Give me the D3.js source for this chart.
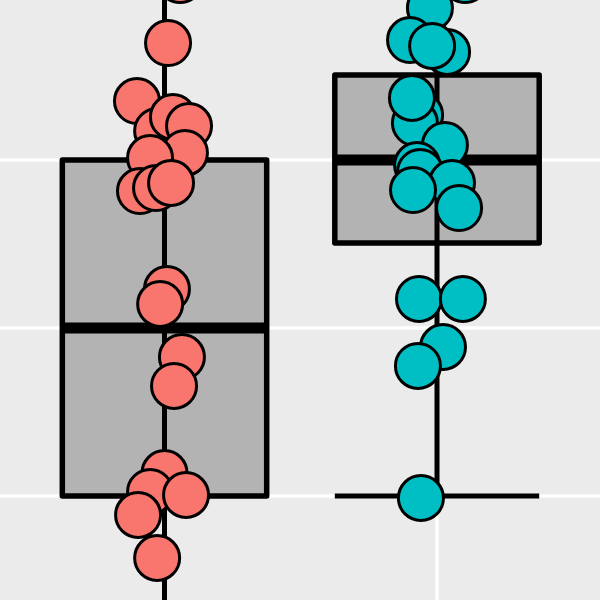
<!DOCTYPE html>
<html>
<head>
<meta charset="utf-8">
<script src="https://cdn.jsdelivr.net/npm/d3@7"></script>
<style>
  html, body { margin: 0; padding: 0; background: #EBEBEB; }
  svg { display: block; }
</style>
</head>
<body>
<svg id="chart" width="600" height="600"></svg>
<script>
// ---- data ----
const categories = ["A", "B"];
const colors = ["#F8766D", "#00BFC4"];
// box statistics per category
const whiskerLow = [0.30, 1.00];
const q1 = [1.00, 2.506];
const median = [2.00, 3.00];
const q3 = [3.00, 3.506];
const whiskerHigh = [4.30, 4.30];
// jittered points: group index, horizontal jitter (x units), value
const pointGroup = [
  0,0,0,0,0,0,0,0,0,0,0,0,0,0,0,0,0,0,0,0,
  1,1,1,1,1,1,1,1,1,1,1,1,1,1,1,1,1,1,1
];
const pointJitter = [
  0.057, 0.013, -0.101, -0.027, 0.031, 0.090, 0.075, -0.053, -0.090, -0.031,
  0.024, 0.009, -0.016, 0.064, 0.035, 0.000, -0.053, 0.079, -0.097, -0.027,
  0.103, -0.026, -0.099, 0.037, -0.018, -0.062, -0.081, -0.092, 0.029, -0.073,
  -0.062, 0.055, -0.088, 0.081, -0.066, 0.095, 0.022, -0.070, -0.059
];
const pointValue = [
  4.071, 3.696, 3.351, 3.173, 3.256, 3.202, 3.042, 3.012, 2.815, 2.833,
  2.863, 2.232, 2.143, 1.827, 1.655, 1.137, 1.024, 1.006, 0.887, 0.631,
  4.071, 3.905, 3.714, 3.643, 3.679, 3.268, 3.220, 3.369, 3.089, 2.970,
  2.929, 2.863, 2.821, 2.714, 2.173, 2.173, 1.887, 1.774, 0.988
];
const yGridValues = [1, 2, 3];

// ---- scales ----
const W = 600, H = 600;
const x = d3.scalePoint().domain(categories).range([164.5, 437]);
const unit = x("B") - x("A");
const xc = (i, dx) => x(categories[i]) + dx * unit;
const y = d3.scaleLinear().domain([1, 3]).range([496, 160]);
const boxHalf = 0.375;
const capHalf = 0.375;

const svg = d3.select("#chart");
svg.append("rect").attr("width", W).attr("height", H).attr("fill", "#EBEBEB");

// grid
const grid = svg.append("g");
grid.selectAll("line.h").data(yGridValues).join("line")
  .attr("x1", 0).attr("x2", W)
  .attr("y1", d => y(d)).attr("y2", d => y(d))
  .attr("stroke", "#FFFFFF").attr("stroke-width", 3.5);
grid.selectAll("line.v").data(categories).join("line")
  .attr("y1", 0).attr("y2", H)
  .attr("x1", d => x(d)).attr("x2", d => x(d))
  .attr("stroke", "#FFFFFF").attr("stroke-width", 3.5);

const idx = d3.range(categories.length);

// boxes fill
svg.append("g").selectAll("rect").data(idx).join("rect")
  .attr("x", i => xc(i, -boxHalf))
  .attr("width", i => xc(i, boxHalf) - xc(i, -boxHalf))
  .attr("y", i => y(q3[i]))
  .attr("height", i => y(q1[i]) - y(q3[i]))
  .attr("fill", "#B3B3B3");

// error bar (vertical line + caps)
const eb = svg.append("g").attr("stroke", "#000").attr("stroke-width", 5).attr("fill", "none");
eb.selectAll("line.stem").data(idx).join("line")
  .attr("x1", i => xc(i, 0)).attr("x2", i => xc(i, 0))
  .attr("y1", i => y(whiskerLow[i])).attr("y2", i => y(whiskerHigh[i]));
eb.selectAll("line.capLow").data(idx).join("line")
  .attr("x1", i => xc(i, -capHalf)).attr("x2", i => xc(i, capHalf))
  .attr("y1", i => y(whiskerLow[i])).attr("y2", i => y(whiskerLow[i]));
eb.selectAll("line.capHigh").data(idx).join("line")
  .attr("x1", i => xc(i, -capHalf)).attr("x2", i => xc(i, capHalf))
  .attr("y1", i => y(whiskerHigh[i])).attr("y2", i => y(whiskerHigh[i]));

// box outline
svg.append("g").selectAll("rect").data(idx).join("rect")
  .attr("x", i => xc(i, -boxHalf))
  .attr("width", i => xc(i, boxHalf) - xc(i, -boxHalf))
  .attr("y", i => y(q3[i]))
  .attr("height", i => y(q1[i]) - y(q3[i]))
  .attr("fill", "none").attr("stroke", "#000").attr("stroke-width", 5.5)
  .attr("stroke-linejoin", "round");

// median
svg.append("g").selectAll("line").data(idx).join("line")
  .attr("x1", i => xc(i, -boxHalf)).attr("x2", i => xc(i, boxHalf))
  .attr("y1", i => y(median[i])).attr("y2", i => y(median[i]))
  .attr("stroke", "#000").attr("stroke-width", 11);

// points
svg.append("g").selectAll("circle").data(d3.range(pointValue.length)).join("circle")
  .attr("cx", k => xc(pointGroup[k], pointJitter[k]))
  .attr("cy", k => y(pointValue[k]))
  .attr("r", 22.5)
  .attr("fill", k => colors[pointGroup[k]])
  .attr("stroke", "#000").attr("stroke-width", 3);
</script>
</body>
</html>
